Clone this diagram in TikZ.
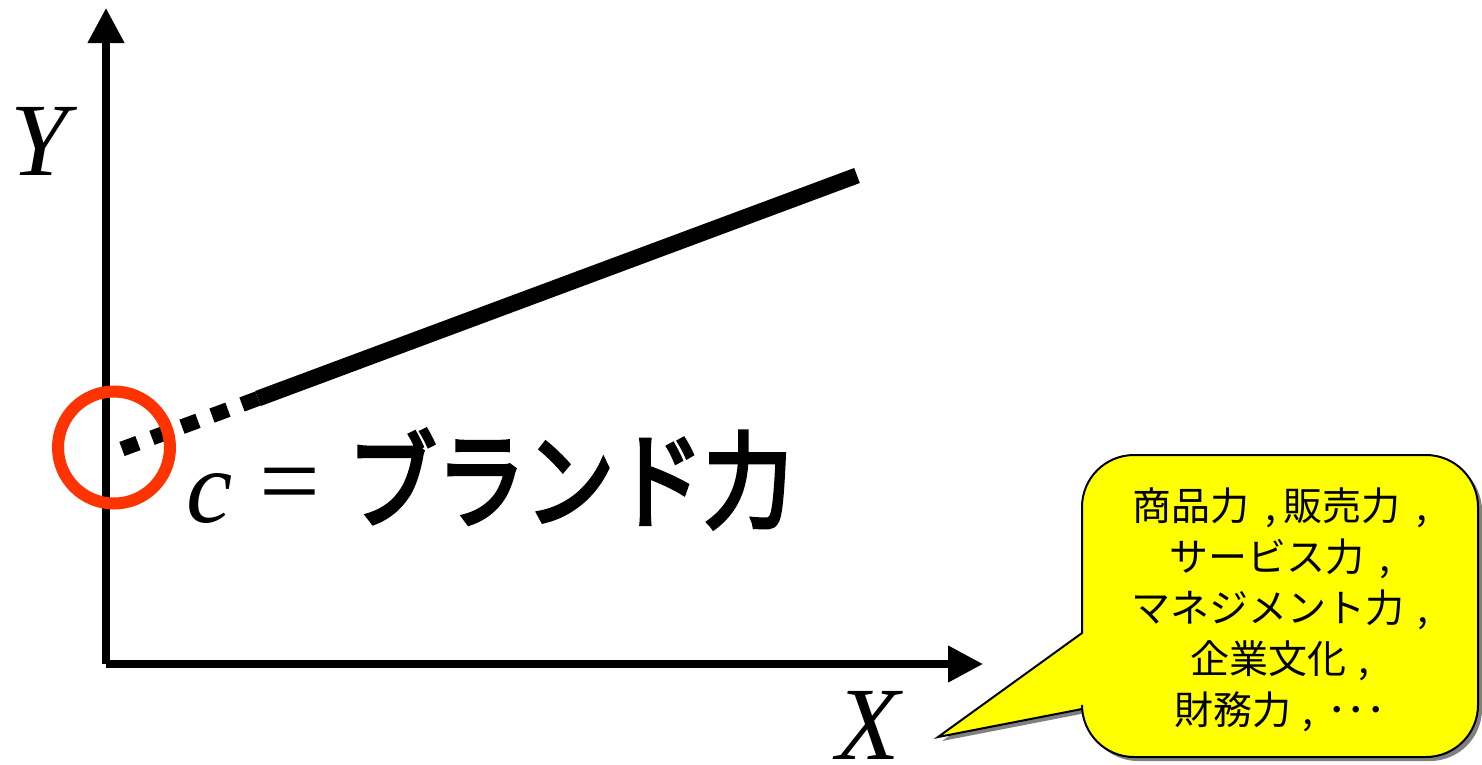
\documentclass[tikz,border=0pt]{standalone}
\usepackage{fontspec}
\usepackage{graphicx}
\newfontfamily\jpfont{Noto Sans CJK JP}
\newfontfamily\jpbigfont{Noto Sans CJK JP}[FakeBold=4]
\newfontfamily\tnrfont{Liberation Serif}
\usetikzlibrary{arrows.meta}
\definecolor{circred}{RGB}{255,51,0}
\definecolor{calloutyellow}{RGB}{255,255,0}
\definecolor{shadowgray}{RGB}{128,128,128}
\newcommand\calloutshape{(938,737) -- (1082,709) -- (1082,705)
  .. controls (1082,733.7) and (1105.3,757) .. (1134,757) -- (1426,757)
  .. controls (1454.7,757) and (1478,733.7) .. (1478,705) -- (1478,507)
  .. controls (1478,478.3) and (1454.7,455) .. (1426,455) -- (1134,455)
  .. controls (1105.3,455) and (1082,478.3) .. (1082,507) -- (1082,633) -- cycle}
\newcommand\jpcomma[2]{\hspace{#1em},\hspace{#2em}}
\begin{document}
\begin{tikzpicture}[x=1pt,y=-1pt,
  axisline/.style={line width=7.5pt,-{Triangle[length=35pt,width=35pt]}},
  trendsolid/.style={line width=16pt},
  trenddots/.style={line width=15pt,dash pattern=on 17pt off 15pt},
  axislabel/.style={inner sep=0pt,font=\tnrfont\itshape\fontsize{104}{104}\selectfont},
  bigtext/.style={inner sep=0pt},
  calloutbox/.style={draw=black,line width=2pt,fill=calloutyellow,line join=miter},
  calloutshadow/.style={fill=shadowgray},
  callouttext/.style={inner sep=0pt,align=center,font=\jpfont\fontsize{39}{51}\selectfont}
]
\useasboundingbox (0,0) rectangle (1482,764);
% axes
\coordinate (origin) at (106,664);
\coordinate (ytip) at (106,8);
\coordinate (xtip) at (983,664);
\draw[axisline] (origin) -- (ytip);
\draw[axisline] (origin) -- (xtip);
\node[axislabel] (ylabel) at (39,141.5) {Y};
\node[axislabel] (xlabel) at (868,725) {X};
% trend line
\coordinate (tstart) at (122,449);
\coordinate (tmid) at (258,398.5);
\coordinate (tend) at (857,175.5);
\draw[trenddots] (tstart) -- (tmid);
\draw[trendsolid] (tmid) -- (tend);
% intercept mark
\node[draw=circred,line width=12pt,circle,minimum size=112pt,inner sep=0pt] (intercept) at (114,447.5) {};
% c = brand
\node[bigtext,font=\tnrfont\itshape\fontsize{104}{104}\selectfont] (cvar) at (210,498.5) {c};
\node[bigtext,font=\tnrfont\fontsize{108}{108}\selectfont] (eqsign) at (289.5,492.5) {=};
\node[bigtext,font=\jpbigfont\fontsize{89}{89}\selectfont] (brand) at (570,479) {\scalebox{1}[1.18]{ブランド力}};
% callout
\fill[calloutshadow,shift={(4,4)}] \calloutshape;
\draw[calloutbox] \calloutshape;
\node[callouttext] (factors) at (1280,610) {商品力\jpcomma{0.4}{0.2}販売力\jpcomma{0.4}{0}\\サービス力\jpcomma{0.4}{0}\\マネジメント力\jpcomma{0.35}{0}\\企業文化\jpcomma{0.3}{0}\\財務力\jpcomma{0.3}{0.35}･･･};
\end{tikzpicture}
\end{document}
